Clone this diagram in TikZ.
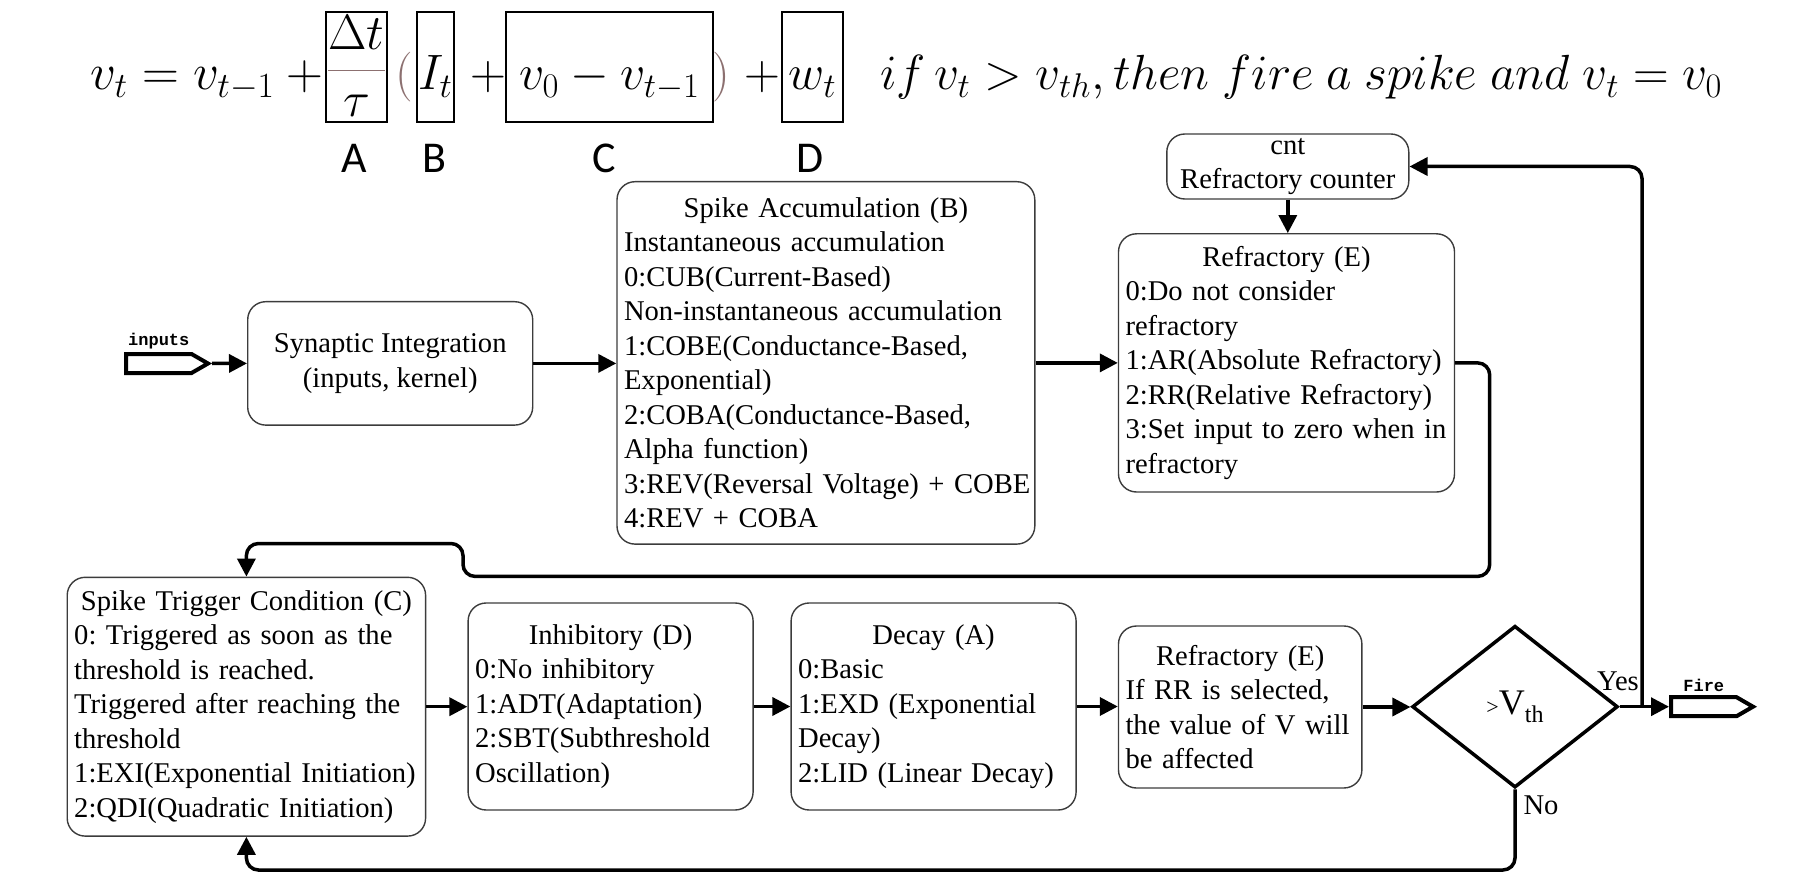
\documentclass[tikz,border=0pt]{standalone}
\usepackage{fontspec}
\setmainfont{Liberation Serif}
\newfontfamily\monofont{Liberation Mono}
\newfontfamily\labfont{Carlito}
\usepackage{graphicx}
\usetikzlibrary{shapes.geometric,shapes.symbols,arrows.meta}
\definecolor{eqbrown}{RGB}{140,112,112}
\definecolor{boxline}{RGB}{60,60,60}
\newcommand{\boxtitle}[1]{\makebox[\hsize][c]{#1}}
\newcommand{\boxline}[1]{\mbox{#1}}
\frenchspacing
\tikzset{
  body/.style={font=\fontsize{14.3}{17.25}\selectfont},
  blk/.style={draw=boxline, line width=0.7pt, rounded corners=9pt, fill=white, body, inner xsep=3.5pt, inner ysep=0pt, align=left},
  conn/.style={line width=1.75pt, rounded corners=6pt, -{Triangle[length=9pt,width=9pt]}},
  eqbox/.style={draw=black, line width=1.2pt, minimum height=55pt, inner sep=0pt},
  eqtext/.style={font=\fontsize{26}{30}\selectfont, inner sep=0pt},
  port/.style={shape=signal, signal to=east, signal pointer angle=60, draw=black, line width=2pt, minimum width=41pt, minimum height=9.5pt, inner sep=0pt},
  portlbl/.style={font=\monofont\bfseries\fontsize{8.5}{9}\selectfont, inner sep=1.5pt},
  lab/.style={font=\labfont\fontsize{22}{24}\selectfont, inner sep=0pt},
  dia/.style={shape=diamond, draw=black, line width=1.75pt, minimum width=102.8pt, minimum height=80.9pt, inner sep=0pt},
}
\begin{document}
\begin{tikzpicture}[x=0.5pt, y=-0.5pt]
\useasboundingbox (0,0) rectangle (1815,877);

% ---------- equation ----------
\node[eqbox, minimum width=30.5pt] (bA) at (356.5,67) {};
\node[eqbox, minimum width=18.5pt] (bB) at (435.5,67) {};
\node[eqbox, minimum width=103.5pt] (bC) at (609.5,67) {};
\node[eqbox, minimum width=30.5pt] (bD) at (812.5,67) {};

\node[eqtext, anchor=base west] (eqL) at (90,90) {\resizebox{122pt}{!}{$v_t = v_{t-1} +{}$}};
\node[eqtext] (fr) at (356.5,66) {$\displaystyle{\color{eqbrown}\frac{\color{black}\Delta t}{\color{black}\tau}}$};
\node[eqtext, anchor=base, text=eqbrown] (lp) at (404.5,90) {$\big($};
\node[eqtext, anchor=base] (It) at (435.5,90) {$I_t$};
\node[eqtext, anchor=base] (p1) at (488,90) {$+$};
\node[eqtext, anchor=base] (vc) at (609.5,90) {$v_0 - v_{t-1}$};
\node[eqtext, anchor=base, text=eqbrown] (rp) at (721,90) {$\big)$};
\node[eqtext, anchor=base] (p2) at (762.5,90) {$+$};
\node[eqtext, anchor=base] (wt) at (812.5,90) {$w_t$};
\node[eqtext, anchor=base west] (cond) at (880,90) {\resizebox{421pt}{!}{$if\,v_t > v_{th}, then\ fire\ a\ spike\ and\ v_t = v_0$}};

\node[lab] (lA) at (354,158.6) {A};
\node[lab] (lB) at (434,158.6) {B};
\node[lab] (lC) at (604,158.6) {C};
\node[lab] (lD) at (810,158.6) {D};

% ---------- blocks ----------
\node[port, anchor=east, label={[portlbl]above:inputs}] (inp) at (212,363.5) {};
\node[port, anchor=west, label={[portlbl]above:Fire}] (fire) at (1669,706.7) {};

\node[blk, align=center, minimum width=142.5pt, minimum height=61.7pt] (syn) at (390.2,363.4)
  {Synaptic Integration\\(inputs, kernel)};

\node[blk, text width=201.9pt, minimum height=181.2pt] (acc) at (825.9,362.9) {%
\boxtitle{Spike Accumulation (B)}\\
\boxline{Instantaneous accumulation}\\
\boxline{0:CUB(Current-Based)}\\
\boxline{Non-instantaneous accumulation}\\
\boxline{1:COBE(Conductance-Based,}\\
\boxline{Exponential)}\\
\boxline{2:COBA(Conductance-Based,}\\
\boxline{Alpha function)}\\
\boxline{3:REV(Reversal Voltage) + COBE}\\
\boxline{4:REV + COBA}};

\node[blk, align=center, minimum width=121pt, minimum height=32.5pt] (cnt) at (1287.8,166.5)
  {cnt\\Refractory counter};

\node[blk, text width=161pt, minimum height=129.1pt] (refE) at (1286.5,362.9) {%
\boxtitle{Refractory (E)}\\
\boxline{0:Do not consider}\\
\boxline{refractory}\\
\boxline{1:AR(Absolute Refractory)}\\
\boxline{2:RR(Relative Refractory)}\\
\boxline{3:Set input to zero when in}\\
\boxline{refractory}};

\node[blk, text width=172.2pt, minimum height=129.4pt] (trig) at (246.4,706.7) {%
\boxtitle{Spike Trigger Condition (C)}\\
\boxline{0: Triggered as soon as the}\\
\boxline{threshold is reached.}\\
\boxline{Triggered after reaching the}\\
\boxline{threshold}\\
\boxline{1:EXI(Exponential Initiation)}\\
\boxline{2:QDI(Quadratic Initiation)}};

\node[blk, text width=135.5pt, minimum height=103.5pt] (inh) at (610.6,706.5) {%
\boxtitle{Inhibitory (D)}\\
\boxline{0:No inhibitory}\\
\boxline{1:ADT(Adaptation)}\\
\boxline{2:SBT(Subthreshold}\\
\boxline{Oscillation)}};

\node[blk, text width=135.5pt, minimum height=103.5pt] (dec) at (933.6,706.5) {%
\boxtitle{Decay (A)}\\
\boxline{0:Basic}\\
\boxline{1:EXD (Exponential}\\
\boxline{Decay)}\\
\boxline{2:LID (Linear Decay)}};

\node[blk, text width=114.7pt, minimum height=81pt] (refE2) at (1240.2,707) {%
\boxtitle{Refractory (E)}\\
\boxline{If RR is selected,}\\
\boxline{the value of V will}\\
\boxline{be affected}};

\node[dia] (dia) at (1515,706.7)
  {{\fontsize{11}{12}\selectfont >}{\fontsize{18}{20}\selectfont V}{\fontsize{12}{12}\selectfont\raisebox{-4pt}{th}}};

\node[body, inner sep=0pt] (yes) at (1618,681) {Yes};
\node[body, inner sep=0pt] (no) at (1541,805) {No};

% ---------- connectors ----------
\draw[conn] (inp.east) -- (syn.west);
\draw[conn] (syn.east) -- (syn.east -| acc.west);
\draw[conn] (acc.east) -- (acc.east -| refE.west);
\draw[conn] (cnt.south) -- (cnt.south |- refE.north);
\draw[conn] (refE.east) -| (1489.7,576.4) -| (463,543.5) -| (trig.north);
\draw[conn] (trig.east) -- (trig.east -| inh.west);
\draw[conn] (inh.east) -- (inh.east -| dec.west);
\draw[conn] (dec.east) -- (dec.east -| refE2.west);
\draw[conn] (refE2.east) -- (refE2.east -| dia.west);
\draw[conn] (dia.east) -- (fire.west);
\coordinate (yj) at (1642,706.7);
\draw[conn] (yj) |- (cnt.east);
\draw[conn] (dia.south) |- (246.4,870) -- (trig.south);
\end{tikzpicture}
\end{document}
